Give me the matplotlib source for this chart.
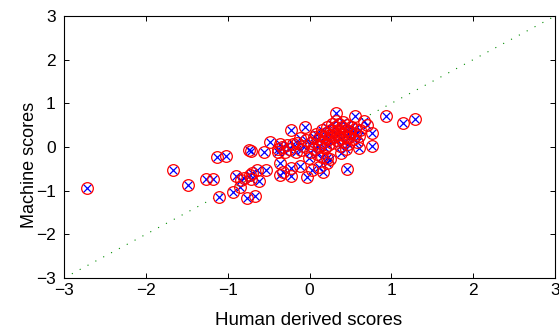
import matplotlib
matplotlib.use("Agg")
import matplotlib.pyplot as plt

# Human derived scores (x) and machine scores (y)
human = [
    -2.72, -1.67, -1.49, -1.13, -1.02, -1.27, -1.18, -1.10, -0.90, -0.84,
    -0.93, -0.85, -0.76, -0.67, -0.74, -0.72, -0.56, -0.70, -0.64, -0.62,
    -0.53, -0.72, -0.48, -0.36, -0.34, -0.39, -0.22, -0.06, -0.36, -0.36,
    -0.22, -0.22, -0.12, -0.03, 0.32, 0.55, 0.66, 0.70, 0.94, 1.14,
    1.29, 0.76, 0.76, 0.61, 0.46, 0.39, 0.25, -0.20, -0.17, 0.11,
    -0.01, 0.15, 0.21, 0.21, 0.11, 0.17, 0.03, -0.32, -0.38, -0.73,
    -0.80,
    # dense cluster
    0.02, 0.05, 0.08, 0.10, 0.12, 0.14, 0.15, 0.17, 0.18, 0.20,
    0.21, 0.22, 0.24, 0.25, 0.26, 0.27, 0.28, 0.29, 0.30, 0.31,
    0.32, 0.33, 0.34, 0.35, 0.36, 0.37, 0.38, 0.39, 0.40, 0.41,
    0.42, 0.43, 0.44, 0.46, 0.47, 0.48, 0.50, 0.51, 0.53, 0.55,
    0.56, 0.58, 0.60, 0.62, 0.06, 0.19, 0.45, -0.04, -0.08, -0.12,
    -0.10, -0.15, -0.25, -0.28, -0.30, 0.01, 0.09,
]
machine = [
    -0.95, -0.53, -0.88, -0.24, -0.20, -0.73, -0.74, -1.14, -0.66, -0.76,
    -1.02, -0.92, -1.16, -1.13, -0.08, -0.10, -0.11, -0.59, -0.53, -0.78,
    -0.53, -0.73, 0.11, 0.07, 0.00, -0.05, 0.38, 0.46, -0.37, -0.64,
    -0.67, -0.47, -0.43, -0.68, 0.77, 0.70, 0.59, 0.51, 0.71, 0.56,
    0.63, 0.31, 0.03, -0.02, -0.51, -0.14, -0.27, 0.08, -0.11, 0.01,
    -0.26, -0.22, -0.26, -0.37, -0.45, -0.57, -0.53, -0.57, -0.11, -0.64,
    -0.70,
    # dense cluster
    0.10, 0.22, 0.30, 0.18, 0.05, 0.28, 0.38, 0.12, 0.22, 0.32,
    0.45, 0.05, 0.18, 0.28, 0.40, 0.52, 0.10, 0.22, 0.35, 0.46,
    0.60, 0.15, 0.28, 0.40, 0.52, 0.02, 0.20, 0.33, 0.45, 0.58,
    0.12, 0.26, 0.38, 0.50, 0.08, 0.22, 0.34, 0.46, 0.18, 0.30,
    0.42, 0.12, 0.25, 0.38, -0.05, -0.02, -0.05, 0.15, 0.02, 0.20,
    -0.08, 0.10, -0.04, 0.05, -0.12, -0.12, -0.15,
]

diag = [-3, 3]
ticks = [-3, -2, -1, 0, 1, 2, 3]
xlabel = "Human derived scores"
ylabel = "Machine scores"

plt.rcParams['font.family'] = ['Liberation Sans', 'DejaVu Sans']

fig = plt.figure(figsize=(5.59, 3.25), dpi=100)
W, H = 559, 325
ax = fig.add_axes([64 / W, 47 / H, 491 / W, 262 / H])

ax.plot(diag, diag, color=(0, 0.55, 0), linestyle=(0, (1, 7)), linewidth=0.8,
        zorder=1)
ax.plot(human, machine, linestyle='none', marker='x', color='blue',
        markersize=5.5, markeredgewidth=0.9, zorder=2)
ax.plot(human, machine, linestyle='none', marker='o', markerfacecolor='none',
        markeredgecolor='red', markersize=8.4, markeredgewidth=0.9, zorder=3)

ax.set_xlim(-3, 3)
ax.set_ylim(-3, 3)
ax.set_xticks(ticks)
ax.set_yticks(ticks)
ax.set_xticklabels([str(t).replace('-', '\u2212') for t in ticks])
ax.set_yticklabels([str(t).replace('-', '\u2212') for t in ticks])
ax.tick_params(direction='in', length=3.5, width=0.7, top=True, right=True,
               labelsize=12.5, colors='black')
ax.tick_params(axis='x', pad=3.5)
ax.tick_params(axis='y', pad=6)
for s in ax.spines.values():
    s.set_linewidth(0.8)

fig.text(309 / W, 1 - 312 / H, xlabel, ha='center', va='top', fontsize=13.5)
fig.text(29 / W, 1 - 165 / H, ylabel, ha='center', va='center',
         rotation=90, fontsize=13)

fig.savefig("out.png", dpi=100)
